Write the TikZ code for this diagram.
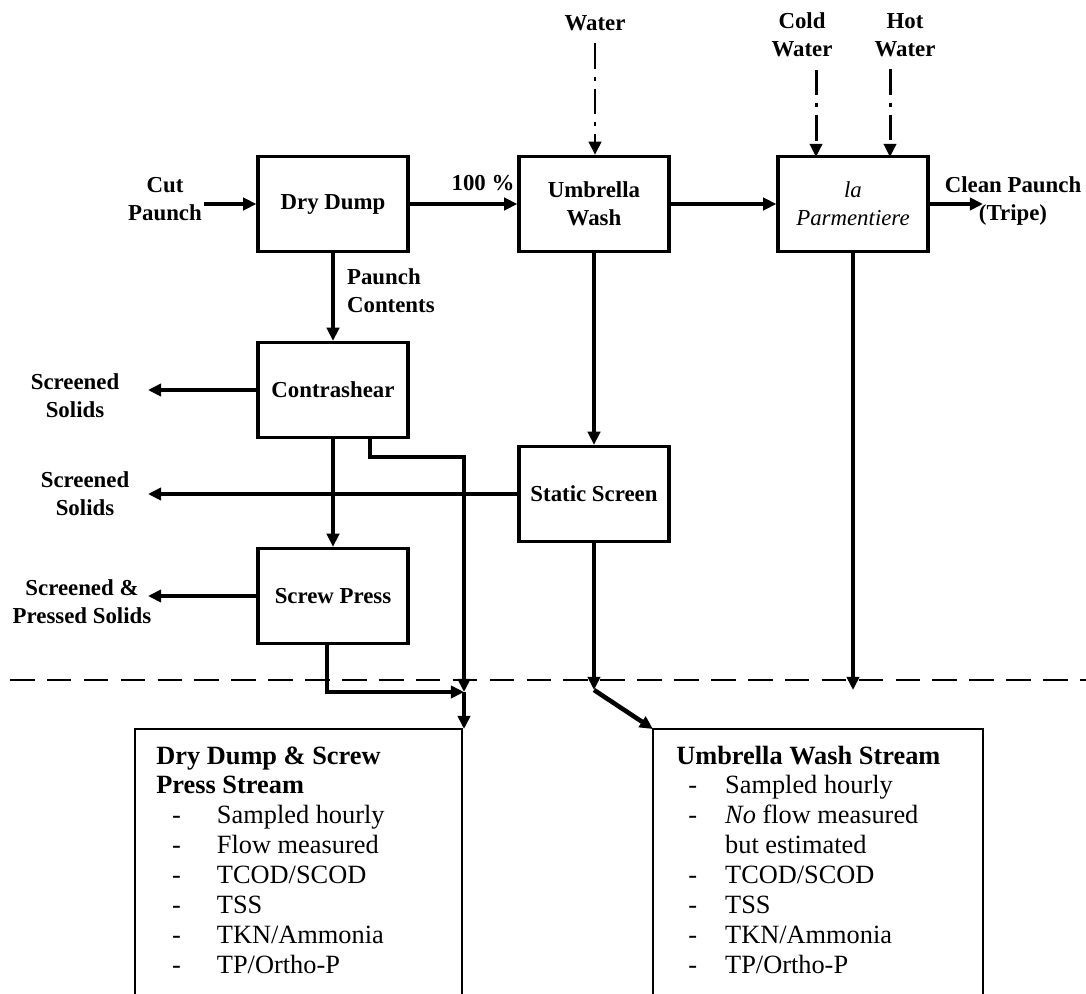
\documentclass[tikz,border=0pt]{standalone}
\usepackage{fontspec}
\setmainfont{Liberation Serif}
\usetikzlibrary{arrows.meta}

\tikzset{
  unit/.style={draw, line width=1.9pt, minimum width=3cm, minimum height=1.9cm,
    align=center, font=\fontsize{13}{16}\selectfont\bfseries},
  lbl/.style={align=center, inner sep=1pt, font=\fontsize{13}{16}\selectfont\bfseries},
  flow/.style={->, line width=1.9pt},
  feed/.style={->, line width=1.7pt, shorten <=6pt,
    dash pattern=on 14.5pt off 4.5pt on 2.3pt off 4.5pt},
  stream/.style={line width=1pt},
  notes/.style={anchor=base west, inner sep=0pt, font=\fontsize{15}{17}\selectfont},
}

\begin{document}
\begin{tikzpicture}[x=0.02cm, y=-0.02cm, >={Triangle[length=7.5pt,width=7pt]}]
\useasboundingbox (0,0) rectangle (1086,994);

     % units
     \node[unit] (dd) at (333,204) {Dry Dump};
     \node[unit] (uw) at (594,204) {Umbrella\\Wash};
     \node[unit, font=\fontsize{13}{16}\selectfont\itshape] (lp) at (853,204) {la\\Parmentiere};
     \node[unit] (cs) at (333,390) {Contrashear};
     \node[unit] (st) at (594,494) {Static Screen};
     \node[unit] (sp) at (333,596) {Screw Press};

     % inputs
     \node[lbl] (cut) at (165,199) {Cut\\Paunch};
     \node[lbl] (water) at (595,23) {Water};
     \node[lbl] (cold) at (802,35) {Cold\\Water};
     \node[lbl] (hot) at (905,35) {Hot\\Water};

     % outputs
     \node[lbl] (clean) at (1013,201) {Clean Paunch\\(Tripe)};
     \node[lbl] (pct) at (483,183) {100 \%};
     \node[lbl, align=left, anchor=west] (contents) at (345,291) {Paunch\\Contents};
     \node[lbl] (solids1) at (75,396) {Screened\\Solids};
     \node[lbl] (solids2) at (85,494) {Screened\\Solids};
     \node[lbl] (solids3) at (82,602) {Screened \&\\Pressed Solids};

     % free ends
     \coordinate (cleanend) at (983,204);
     \coordinate (coldin) at (816,157);
     \coordinate (hotin) at (890,157);
     \coordinate (ss1) at (148,390);
     \coordinate (ss2) at (148,494);
     \coordinate (ss3) at (148,596);
     \coordinate (jL) at (464,692);
     \coordinate (jR) at (594,690);
     \coordinate (lpend) at (853,690);
     \coordinate (ddtop) at (464,729);
     \coordinate (uwtop) at (653,729);

     % main line
     \draw[flow] (cut.east |- dd) -- (dd);
     \draw[flow] (dd) -- (uw);
     \draw[flow] (uw) -- (lp);
     \draw[flow] (lp) -- (cleanend);

     % water
     \draw[feed] (water) -- (water |- uw.north);
     \draw[feed] (cold.south -| coldin) -- (coldin);
     \draw[feed] (hot.south -| hotin) -- (hotin);

     % solids
     \draw[flow] (dd) -- (cs);
     \draw[flow] (cs) -- (sp);
     \draw[flow] (uw) -- (st);
     \draw[flow] (cs) -- (ss1);
     \draw[flow] (st) -- (ss2);
     \draw[flow] (sp) -- (ss3);

     % sampling points
     \draw[line width=1.4pt, dash pattern=on 14pt off 7pt] (10,680) -- (1086,680);
     \draw[flow] ([xshift=0.74cm]cs.south) -- ++(0,18) -| (jL);
     \draw[flow, line width=2.6pt] ([xshift=-0.12cm]sp.south) |- (jL);
     \draw[flow] (jL) -- (ddtop);
     \draw[flow] (st) -- (jR);
     \draw[flow, line width=2.6pt] (jR) -- (uwtop);
     \draw[flow] (lp) -- (lpend);

     % streams
     \draw[stream] (135,994) -- (135,729) -- (462,729) -- (462,994);
     \draw[stream] (653,994) -- (653,729) -- (983,729) -- (983,994);

     \node[notes] (ddnotes) at (156,764) {\begin{tabular}[t]{@{\hspace{9pt}}p{25.5pt}@{}l@{}}
       \multicolumn{2}{@{}l@{}}{\textbf{Dry Dump \& Screw}}\\
       \multicolumn{2}{@{}l@{}}{\textbf{Press Stream}}\\
       - & Sampled hourly\\
       - & Flow measured\\
       - & TCOD/SCOD\\
       - & TSS\\
       - & TKN/Ammonia\\
       - & TP/Ortho-P
     \end{tabular}};

     \node[notes] (uwnotes) at (676,764) {\begin{tabular}[t]{@{\hspace{6.8pt}}p{21pt}@{}l@{}}
       \multicolumn{2}{@{}l@{}}{\textbf{Umbrella Wash Stream}}\\
       - & Sampled hourly\\
       - & \textit{No} flow measured\\
         & but estimated\\
       - & TCOD/SCOD\\
       - & TSS\\
       - & TKN/Ammonia\\
       - & TP/Ortho-P
     \end{tabular}};

\end{tikzpicture}
\end{document}
